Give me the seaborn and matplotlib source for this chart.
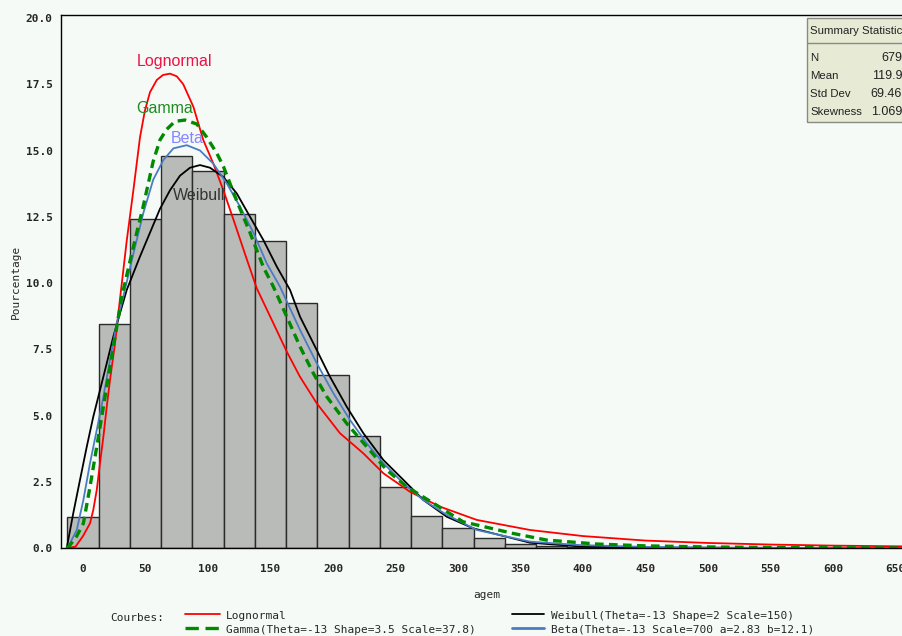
import numpy as np
import pandas as pd
import matplotlib
matplotlib.use("Agg")
import matplotlib.pyplot as plt
from matplotlib.lines import Line2D
from matplotlib.patches import Rectangle
import seaborn as sns

# histogram: bin midpoints (agem) and percentage per bin
bin_mid = [0, 25, 50, 75, 100, 125, 150, 175, 200, 225, 250, 275, 300, 325,
           350, 375, 400, 425, 450, 475, 500, 525, 550, 575, 600, 625, 650]
bin_pct = [1.17, 8.44, 12.4, 14.79, 14.23, 12.6, 11.6, 9.23, 6.52, 4.21, 2.3, 1.2, 0.74, 0.37,
           0.14, 0.08, 0.05, 0.04, 0.03, 0.02, 0.02, 0.01, 0.01, 0.01, 0.005, 0.005, 0.005]

# fitted curves
logn_x = [-13, -6, 0, 5.6, 8.2, 11, 13.6, 16.3, 19, 21.6, 25.6, 29.6, 35, 40.3, 45.6, 49.5, 53.6,
          59, 64, 69.6, 75, 80.2, 88.3, 96.2, 104.3, 112.3, 120.3, 131, 139, 152.3, 163, 173.6,
          187, 205.6, 224.3, 240.3, 261.6, 285.6, 315, 357.6, 400, 450, 500, 550, 600, 660]
logn_y = [0, 0.05, 0.45, 0.93, 1.43, 2.19, 3.2, 4.2, 5.33, 6.34, 7.72, 9.4, 11.6, 13.5, 15.5, 16.5, 17.2,
          17.66, 17.85, 17.9, 17.8, 17.5, 16.65, 15.4, 14.5, 13.5, 12.4, 10.9, 9.8, 8.48, 7.41, 6.46,
          5.46, 4.33, 3.57, 2.82, 2.12, 1.56, 1.06, 0.68, 0.45, 0.28, 0.19, 0.13, 0.09, 0.06]

gam_x = [-13, -10.4, -5, 0.3, 5.6, 11, 16.3, 21.6, 27, 31, 37, 43, 48.2, 56.2, 61.6, 67, 73.6, 81.6,
         91, 99, 107, 112.3, 123, 133.6, 144.3, 152.3, 163, 173.6, 184.3, 195, 211, 227, 243, 259,
         280.3, 304, 344, 371, 411, 450, 500, 550, 600, 660]
gam_y = [0, 0.11, 0.45, 0.93, 2.31, 3.82, 5.33, 6.84, 8.35, 9.48, 10.7, 11.9, 12.9, 14.6, 15.4, 15.8, 16.1, 16.15,
         16.0, 15.5, 14.9, 14.4, 13.1, 11.9, 10.6, 9.86, 8.73, 7.6, 6.59, 5.71, 4.7, 3.82, 2.94, 2.31,
         1.69, 0.99, 0.55, 0.3, 0.15, 0.08, 0.04, 0.02, 0.01, 0.0]

beta_x = [-13, -11.8, -5, 0.3, 5.6, 11, 16.3, 21.6, 27, 32.3, 40.3, 48.2, 56.2, 64.3, 72.3, 83, 93.6,
          104.3, 115, 125.6, 136.3, 147, 157.6, 173.6, 187, 200.3, 213.6, 227, 240.3, 256.3, 272.3,
          291, 315, 357.6, 397.6, 450, 500, 660]
beta_y = [0, 0.05, 0.68, 1.81, 3.2, 4.45, 5.71, 7.09, 8.48, 9.5, 11.1, 12.63, 13.9, 14.64, 15.08, 15.2, 15.0,
          14.5, 13.76, 12.88, 11.9, 10.74, 9.86, 8.23, 6.97, 5.84, 4.83, 3.95, 3.2, 2.44, 1.81,
          1.25, 0.68, 0.24, 0.11, 0.04, 0.01, 0]

weib_x = [-13, -7.8, -2.4, 3, 8.2, 13.6, 19, 24.2, 29.6, 35, 45.6, 53.6, 61.6, 69.6, 77.6, 85.6, 93.6,
          101.6, 112.3, 123, 133.6, 144.3, 155, 165.6, 173.6, 187, 197.6, 211, 224.3, 240.3, 256.3,
          272.3, 291, 312.3, 357.6, 397.6, 450, 660]
weib_y = [0, 1.31, 2.57, 3.82, 4.95, 5.96, 6.97, 7.97, 8.86, 9.74, 11.0, 11.9, 12.8, 13.5, 14.05, 14.35, 14.45,
          14.35, 14.0, 13.38, 12.5, 11.62, 10.62, 9.74, 8.73, 7.47, 6.46, 5.33, 4.33, 3.32, 2.57,
          1.81, 1.18, 0.74, 0.2, 0.06, 0.01, 0]

stat_names = ["N", "Mean", "Std Dev", "Skewness"]
stat_vals = ["6795", "119.93", "69.463", "1.0693"]

legend_labels = ["Lognormal", "Gamma(Theta=-13 Shape=3.5 Scale=37.8)",
                 "Weibull(Theta=-13 Shape=2 Scale=150)", "Beta(Theta=-13 Scale=700 a=2.83 b=12.1)"]

bg = "#f6faf7"
sns.set_style("white")
plt.rcParams["font.family"] = ["DejaVu Sans"]

fig = plt.figure(figsize=(9.03, 6.36), dpi=100, facecolor=bg)
W, H = 903, 636
ax = fig.add_axes([61 / W, 1 - 548 / H, (908 - 61) / W, (548 - 15.35) / H])
ax.set_facecolor(bg)

hist_df = pd.DataFrame({"agem": bin_mid, "pct": bin_pct})
sns.histplot(data=hist_df, x="agem", weights="pct", binwidth=25, binrange=(-12.5, 662.5),
             color="#b9bbb8", edgecolor="#2b2b2b", linewidth=1, alpha=1, ax=ax)

sns.lineplot(x=logn_x, y=logn_y, color="#ff0000", lw=1.3, sort=False, ax=ax)
sns.lineplot(x=weib_x, y=weib_y, color="#000000", lw=1.3, sort=False, ax=ax)
sns.lineplot(x=beta_x, y=beta_y, color="#4a7cc4", lw=1.3, sort=False, ax=ax)
sns.lineplot(x=gam_x, y=gam_y, color="#008a00", lw=2.4, linestyle=(0, (2.6, 1.6)), sort=False, ax=ax)

lab_kw = dict(fontsize=11.5, ha="center", va="center", family="Liberation Sans")
ax.text(73.6, 18.34, "Lognormal", color="#ee1144", **lab_kw)
ax.text(65.6, 16.6, "Gamma", color="#1f8a1f", **lab_kw)
ax.text(83.2, 15.47, "Beta", color="#8585ff", **lab_kw)
ax.text(92.8, 13.3, "Weibull", color="#333333", **lab_kw)

ax.set_xlim(-17.6, 660)
ax.set_ylim(0, 20.1)
ax.set_xticks(np.arange(0, 651, 50))
ax.set_xticks(np.arange(25, 651, 50), minor=True)
ax.set_yticks(np.arange(0, 20.01, 2.5))
ax.set_yticklabels([f"{v:.1f}" for v in np.arange(0, 20.01, 2.5)])
ax.tick_params(axis="x", which="major", direction="out", length=5, width=1, color="black",
               labelsize=8, pad=6.2)
ax.tick_params(axis="x", which="minor", direction="out", length=3, width=1, color="black")
ax.tick_params(axis="y", which="major", direction="out", length=3, width=1, color="black",
               labelsize=8, pad=3)
for lab in ax.get_xticklabels() + ax.get_yticklabels():
    lab.set_family("DejaVu Sans Mono")
    lab.set_fontweight("bold")

for s in ["left", "top", "bottom"]:
    ax.spines[s].set_color("black")
    ax.spines[s].set_linewidth(1)
ax.spines["right"].set_visible(False)

ax.set_xlabel("agem", family="DejaVu Sans Mono", fontsize=8)
ax.set_ylabel("Pourcentage", family="DejaVu Sans Mono", fontsize=8)
ax.xaxis.set_label_coords((487 - 61) / (908 - 61), -(590 - 548) / (548 - 15.35))
ax.yaxis.set_label_coords((21 - 61) / (908 - 61), 0.5)

# summary statistics inset
fig.add_artist(Rectangle((807 / W, 1 - 122 / H), 110 / W, 104 / H, transform=fig.transFigure,
                         facecolor="#e7ead4", edgecolor="#8a8a80", lw=1))
fig.add_artist(Line2D([807 / W, 1], [1 - 43 / H] * 2, transform=fig.transFigure,
                      color="#8a8a80", lw=1))
fig.text(810 / W, 1 - 31 / H, "Summary Statistics", fontsize=8.2, va="center", ha="left",
         color="#222222", family="Liberation Sans")
for i, (nm, vl) in enumerate(zip(stat_names, stat_vals)):
    y = 1 - (58 + i * 18) / H
    fig.text(810 / W, y, nm, fontsize=8.2, va="center", ha="left", color="#222222",
             family="Liberation Sans")
    fig.text(909 / W, y, vl, fontsize=9, va="center", ha="right", color="#222222",
             family="Liberation Sans")

# legend at the bottom
fig.text(110 / W, 1 - 618 / H, "Courbes:", fontsize=8, family="DejaVu Sans Mono",
         va="center", ha="left")
leg_styles = [
    dict(color="#ff0000", lw=1.3, ls="-"),
    dict(color="#008a00", lw=2.4, ls=(0, (4, 2))),
    dict(color="#000000", lw=1.3, ls="-"),
    dict(color="#4a7cc4", lw=2.0, ls="-"),
]
leg_pos = [(185, 220, 226, 616), (185, 220, 226, 630), (512, 544, 551, 616), (512, 544, 551, 630)]
for (x0, x1, xt, yy), st, lab in zip(leg_pos, leg_styles, legend_labels):
    fig.add_artist(Line2D([x0 / W, x1 / W], [1 - (yy - 2) / H] * 2, transform=fig.transFigure,
                          color=st["color"], lw=st["lw"], linestyle=st["ls"]))
    fig.text(xt / W, 1 - yy / H, lab, fontsize=8, family="DejaVu Sans Mono", va="center", ha="left")

fig.savefig("out.png", dpi=100, facecolor=bg)
